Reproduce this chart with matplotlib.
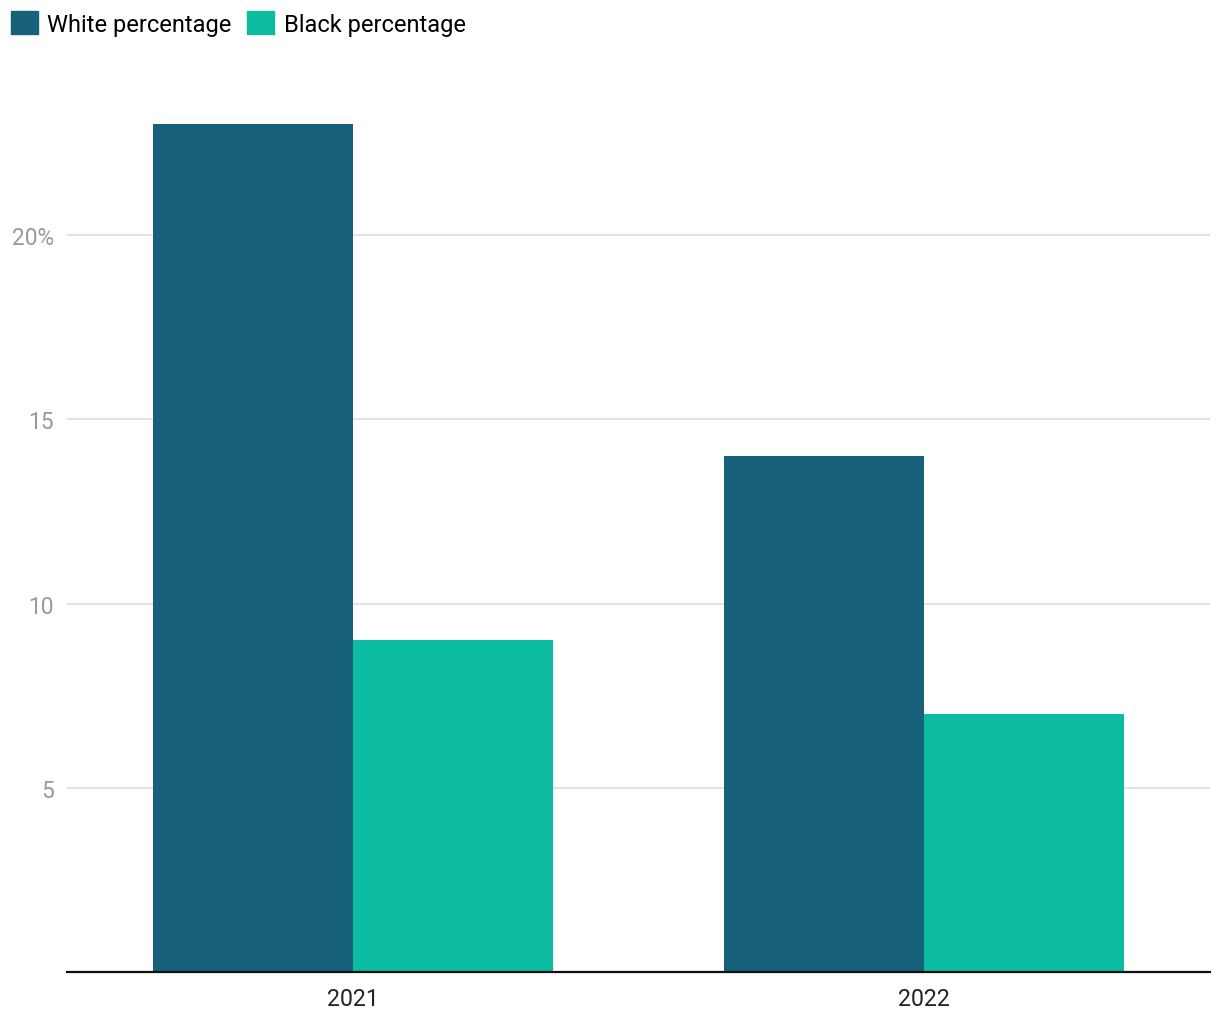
import matplotlib
matplotlib.use("Agg")
from matplotlib import pyplot as plt
from matplotlib.patches import Patch
import numpy as np

plt.rcParams['font.family'] = ['Roboto', 'DejaVu Sans']

years = ['2021', '2022']
white_pct = [23, 14]
black_pct = [9, 7]
series_names = ['White percentage', 'Black percentage']
y_ticks = [5, 10, 15, 20]
y_tick_labels = ['5', '10', '15', '20%']

c_white = '#18617B'
c_black = '#0BBCA1'

fig = plt.figure(figsize=(12.2, 10.2), dpi=100)
ax = fig.add_axes([0.0549, 0.046, 0.9369, 0.8853])

x = np.arange(len(years))
w = 0.35
ax.bar(x - w / 2, white_pct, width=w, color=c_white, zorder=3)
ax.bar(x + w / 2, black_pct, width=w, color=c_black, zorder=3)

ax.set_xlim(-0.5, 1.5)
ax.set_ylim(0, 24.5)
ax.set_xticks(x)
ax.set_xticklabels(years, fontsize=16.7, color='#222222')
ax.set_yticks(y_ticks)
ax.set_yticklabels(y_tick_labels, fontsize=16.4, color='#9a9a9a')
ax.tick_params(axis='both', length=0)
ax.tick_params(axis='y', pad=9.5)
ax.tick_params(axis='x', pad=11)
ax.grid(axis='y', color='#e2e2e2', linewidth=1.4, zorder=0)
for s in ['left', 'right', 'top']:
    ax.spines[s].set_visible(False)
ax.spines['bottom'].set_color('#111111')
ax.spines['bottom'].set_linewidth(1.6)
ax.spines['bottom'].set_zorder(4)

handles = [Patch(color=c_white), Patch(color=c_black)]
fig.legend(handles, series_names, loc='upper left', bbox_to_anchor=(0.005, 0.993),
           ncol=2, frameon=False, fontsize=17, handlelength=1.15, handleheight=1.15,
           handletextpad=0.4, columnspacing=0.65, borderaxespad=0, borderpad=0.2)

fig.savefig('out.png', dpi=100)
